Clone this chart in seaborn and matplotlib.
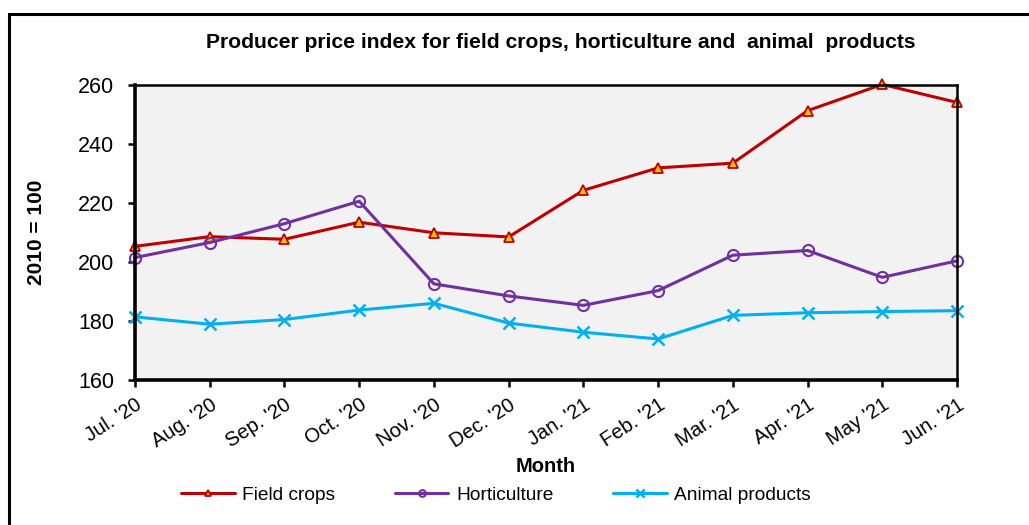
import numpy as np
import pandas as pd
import seaborn as sns
import matplotlib.pyplot as plt
from matplotlib.patches import Rectangle

months = ["Jul. '20", "Aug. '20", "Sep. '20", "Oct. '20", "Nov. '20", "Dec. '20",
          "Jan. '21", "Feb. '21", "Mar. '21", "Apr. '21", "May '21", "Jun. '21"]
field_crops = [205.3, 208.6, 207.7, 213.5, 209.9, 208.5, 224.3, 231.9, 233.5, 251.3, 260.2, 254.1]
horticulture = [201.5, 206.6, 213.0, 220.6, 192.6, 188.5, 185.3, 190.3, 202.3, 203.9, 194.8, 200.4]
animal_products = [181.4, 178.9, 180.5, 183.7, 186.0, 179.3, 176.2, 173.9, 181.9, 182.8, 183.2, 183.5]

sns.set_style('white')
plt.rcParams['font.family'] = ['Liberation Sans', 'DejaVu Sans']
plt.rcParams.update({'text.color': 'black', 'axes.labelcolor': 'black',
                     'xtick.color': 'black', 'ytick.color': 'black'})

W, H = 1029, 525
fig = plt.figure(figsize=(W / 100, H / 100), dpi=100)
ax = fig.add_axes([135 / W, 1 - 380 / H, (957 - 135) / W, (380 - 85) / H])
ax.set_facecolor('#f2f2f2')

# figure border (only left and top edges are visible in the crop)
fig.patches.append(Rectangle((9 / W, -0.2), 1.2, 1 - 14 / H + 0.2, transform=fig.transFigure,
                             fill=False, edgecolor='black', linewidth=2.2, clip_on=False))

x = np.arange(len(months))
series = [
    ('Field crops', field_crops, '#c00000', dict(marker='^', markersize=7, markerfacecolor='#ffc000',
                                                 markeredgecolor='#c00000', markeredgewidth=1.3)),
    ('Horticulture', horticulture, '#7030a0', dict(marker='o', markersize=8, markerfacecolor='none',
                                                   markeredgecolor='#7030a0', markeredgewidth=1.5)),
    ('Animal products', animal_products, '#00b0f0', dict(marker='x', markersize=9,
                                                         markeredgecolor='#00b0f0', markeredgewidth=1.8)),
]
for name, vals, col, mk in series:
    df = pd.DataFrame({'m': x, 'v': vals})
    sns.lineplot(data=df, x='m', y='v', color=col, linewidth=2.2, label=name, ax=ax, clip_on=False, **mk)

ax.set_xlim(0, len(months) - 1)
ax.set_ylim(160, 260)
ax.set_yticks(range(160, 261, 20))
ax.set_xticks(x)
ax.set_xticklabels(months, rotation=33, ha='right', rotation_mode='anchor')

for s in ax.spines.values():
    s.set_color('black')
    s.set_visible(True)
ax.spines['left'].set_linewidth(2.6)
ax.spines['bottom'].set_linewidth(2.6)
ax.spines['top'].set_linewidth(1.8)
ax.spines['right'].set_linewidth(1.8)

ax.tick_params(axis='y', direction='out', length=5, width=1.8, pad=10, labelsize=15.5, left=True)
ax.tick_params(axis='x', direction='out', length=5, width=1.8, pad=6, labelsize=14.5, bottom=True)

ax.set_xlabel('Month', fontsize=14.5, fontweight='bold', labelpad=4)
ax.set_ylabel('2010 = 100', fontsize=15, fontweight='bold')
ax.yaxis.set_label_coords(46 / W, 1 - 232 / H, transform=fig.transFigure)

fig.text(561 / W, 1 - 43 / H, 'Producer price index for field crops, horticulture and  animal  products',
         ha='center', va='center', fontsize=15.2, fontweight='bold')

ax.legend(loc='center', bbox_to_anchor=(0.482, 1 - 495 / H), bbox_transform=fig.transFigure,
          ncol=3, frameon=False, fontsize=13.8, handlelength=2.8, handletextpad=0.4,
          columnspacing=3.1, markerscale=0.6)

fig.savefig('out.png', dpi=100)
